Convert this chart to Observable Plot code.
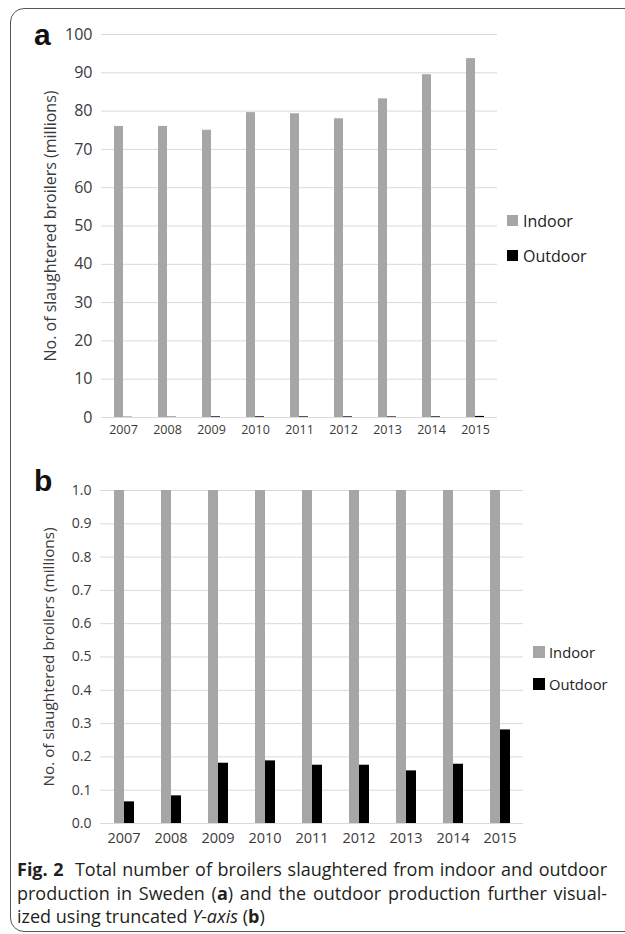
<!DOCTYPE html>
<html><head><meta charset="utf-8">
<script src="https://cdn.jsdelivr.net/npm/d3@7"></script>
<script src="https://cdn.jsdelivr.net/npm/@observablehq/plot@0.6"></script>
<style>
body{margin:0;background:#fff;overflow:hidden;font-family:"Open Sans",sans-serif}
#root{position:relative;width:625px;height:934px;overflow:hidden;background:#fff}
#frame{position:absolute;left:10px;top:8px;width:700px;height:924px;border:1.5px solid #555;border-radius:14px;box-sizing:border-box}
.panel{position:absolute;left:0}
.panel svg{overflow:visible}
.tag{position:absolute;font-family:"Liberation Sans",Arial,sans-serif;font-weight:bold;font-size:30px;line-height:30px;color:#111}
.item{position:absolute;display:flex;align-items:center;height:20px;white-space:nowrap;color:#222}
.sw{display:inline-block;flex:none}
#caption{position:absolute;left:17px;top:858px;width:590px;font-size:17px;line-height:23.5px;color:#231f20}
.jl{text-align:justify;text-align-last:justify;height:23.5px;overflow:visible}
#pa [aria-label^="fx-axis"] text{font-size:12.5px}
#pb [aria-label^="fx-axis"] text{font-size:14.5px}
</style>
</head><body>
<div id="root">
  <div id="frame"></div>
  <div class="panel" id="pa" style="top:0px"></div>
  <div class="panel" id="pb" style="top:456px"></div>
  <div class="tag" style="left:34px;top:20px">a</div>
  <div class="tag" style="left:34px;top:466px">b</div>
  <div id="legA"></div>
  <div id="legB"></div>
  <div id="caption">
    <div class="jl" id="cl1"><b>Fig. 2</b>&nbsp; Total number of broilers slaughtered from indoor and outdoor</div>
    <div class="jl">production in Sweden (<b>a</b>) and the outdoor production further visual-</div>
    <div>ized using truncated <i>Y-axis</i> (<b>b</b>)</div>
  </div>
</div>
<script>
const years = ["2007","2008","2009","2010","2011","2012","2013","2014","2015"];
const series = ["Indoor","Outdoor"];
const indoor = [76.0, 76.0, 75.0, 79.6, 79.3, 78.0, 83.2, 89.5, 93.7];
const outdoor = [0.065, 0.083, 0.181, 0.188, 0.175, 0.175, 0.158, 0.178, 0.281];
const colors = ["#a6a6a6", "#000000"];
const ticksA = [0,10,20,30,40,50,60,70,80,90,100];
const ticksB = [0,0.1,0.2,0.3,0.4,0.5,0.6,0.7,0.8,0.9,1.0];
const yLabel = "No. of slaughtered broilers (millions)";

const rows = years.flatMap((yr, i) => [
  {year: yr, type: series[0], value: indoor[i]},
  {year: yr, type: series[1], value: outdoor[i]}
]);

function panel(opts) {
  const svg = Plot.plot({
    width: opts.width, height: opts.height,
    marginLeft: 100, marginRight: opts.marginRight, marginTop: 34, marginBottom: 30,
    style: {fontFamily: "Open Sans, sans-serif", fontSize: opts.fs, color: "#3a3a3a", background: "transparent", overflow: "visible"},
    facet: {data: rows, x: "year"},
    fx: {domain: years, padding: 0, axis: "bottom", tickSize: 0, tickPadding: opts.xPad, label: null},
    x: {domain: series, paddingInner: 0, paddingOuter: 1.27, axis: null},
    y: {domain: opts.domain, clamp: true, ticks: opts.ticks, tickFormat: opts.fmt, tickSize: 0, tickPadding: 9,
        label: yLabel, labelAnchor: "center", labelOffset: 57, labelArrow: "none"},
    color: {domain: series, range: colors},
    marks: [
      Plot.ruleY(opts.ticks, {stroke: "#d9d9d9", strokeWidth: 1}),
      Plot.barY(rows, {x: "type", y: "value", fill: "type"})
    ]
  });
  svg.querySelectorAll("text").forEach(t => {
    if (t.textContent.includes("slaughtered")) {
      t.textContent = yLabel;
      t.style.fontSize = opts.labelFs;
    }
  });
  return svg;
}

const a = panel({width: 500, height: 447, marginRight: 3, fs: "16px", labelFs: "16px", xPad: 8, domain: [0, 100], ticks: ticksA, fmt: d3.format("d")});
document.getElementById("pa").appendChild(a);
const b = panel({width: 525, height: 397, marginRight: 2, fs: "14px", labelFs: "15.3px", xPad: 9, domain: [0, 1], ticks: ticksB, fmt: d3.format(".1f")});
document.getElementById("pb").appendChild(b);

function legend(id, left, tops, size, fs) {
  const el = document.getElementById(id);
  series.forEach((s, i) => {
    const it = document.createElement("div");
    it.className = "item";
    it.style.left = left + "px";
    it.style.top = (tops[i] - 10) + "px";
    it.style.fontSize = fs;
    const sw = document.createElement("span");
    sw.className = "sw";
    sw.style.width = size + "px"; sw.style.height = size + "px";
    sw.style.marginRight = (size > 11 ? 4 : 5) + "px";
    sw.style.background = colors[i];
    it.appendChild(sw);
    it.appendChild(document.createTextNode(s));
    el.appendChild(it);
  });
}
legend("legA", 507, [220.5, 255.5], 11, "16px");
legend("legB", 533, [652, 684], 12, "14.75px");

// fit caption font so that the first line naturally spans the caption width
(function fitCaption() {
  const cap = document.getElementById("caption");
  const l1 = document.getElementById("cl1");
  const probe = document.createElement("span");
  probe.innerHTML = l1.innerHTML;
  probe.style.whiteSpace = "nowrap";
  probe.style.position = "absolute";
  probe.style.visibility = "hidden";
  cap.appendChild(probe);
  let fs = 17;
  for (let k = 0; k < 30; k++) {
    cap.style.fontSize = fs + "px";
    const w = probe.getBoundingClientRect().width;
    if (w > 586) fs -= 0.1; else if (w < 578) fs += 0.1; else break;
  }
  cap.removeChild(probe);
})();
</script>
</body></html>
